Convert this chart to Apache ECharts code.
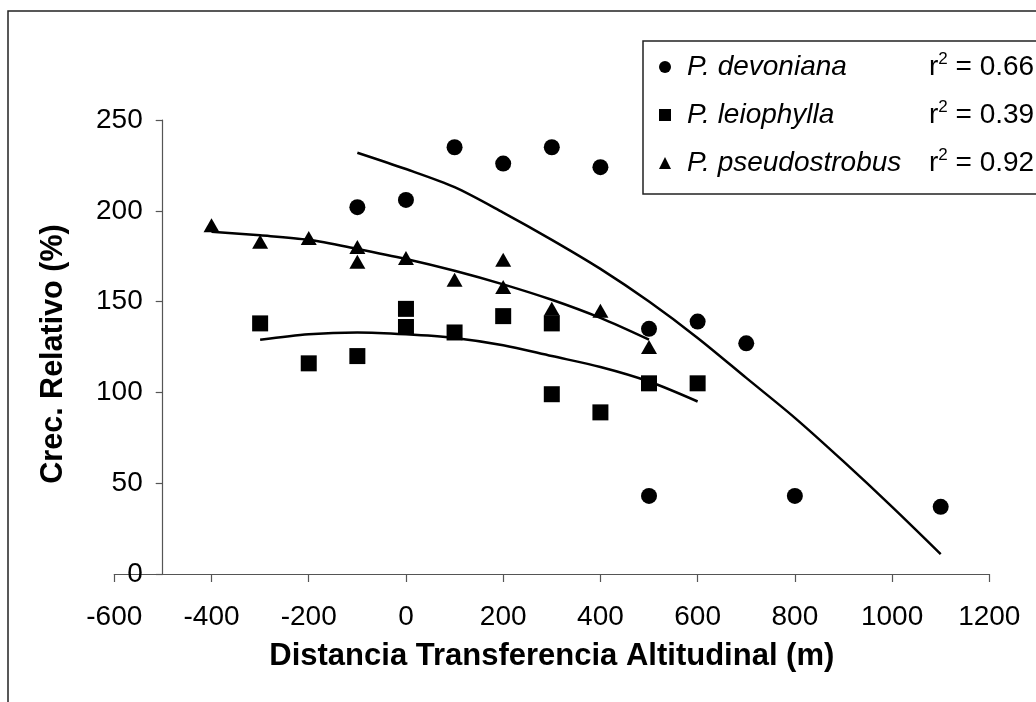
<!DOCTYPE html>
<html>
<head>
<meta charset="utf-8">
<script src="https://cdn.jsdelivr.net/npm/echarts@6/dist/echarts.min.js"></script>
<style>
    html, body {margin: 0; padding: 0; background: #fff;}
    #chart {width: 1036px; height: 702px;}
</style>
</head>
<body>
<div id="chart"></div>
<script>
// puntos observados [distancia, crecimiento]
let devoniana = [[-100, 202], [0, 206], [100, 235], [200, 226], [300, 235], [400, 224],
    [500, 135], [500, 43], [600, 139], [700, 127], [800, 43], [1100, 37]];
let leiophylla = [[-300, 138], [-200, 116], [-100, 120], [0, 146], [0, 136], [100, 133],
    [200, 142], [300, 138], [300, 99], [400, 89], [500, 105], [600, 105]];
let pseudostrobus = [[-400, 192], [-300, 183], [-200, 185], [-100, 180], [-100, 172], [0, 174],
    [100, 162], [200, 173], [200, 158], [300, 146], [400, 145], [500, 125]];

// lineas de tendencia
let devTrendX = [-100, 0, 100, 200, 300, 400, 500, 600, 700, 800, 900, 1000, 1100];
let devTrendY = [232, 223, 213, 199, 184, 168, 150, 130, 108, 86, 62, 37, 11];
let leioTrendX = [-300, -200, -100, 0, 100, 200, 300, 400, 500, 600];
let leioTrendY = [129, 132, 133, 132, 130, 126, 120, 114, 106, 95];
let pseuTrendX = [-400, -300, -200, -100, 0, 100, 200, 300, 400, 500];
let pseuTrendY = [188.5, 186.5, 184, 179, 173.5, 167, 159.5, 151, 141, 129];

let speciesNames = ['P. devoniana', 'P. leiophylla', 'P. pseudostrobus'];
let speciesIcons = ['circle', 'rect', 'triangle'];
let r2Values = ['0.66', '0.39', '0.92'];

let xTicks = {min: -600, max: 1200, interval: 200};
let yTicks = {min: 0, max: 250, interval: 50};

let zip = function (xs, ys) {
    return xs.map((x, i) => [x, ys[i]]);
};

let chart = echarts.init(document.getElementById('chart'));
let font = '"Liberation Sans", Arial, sans-serif';

let trend = function (name, xs, ys) {
    return {
        name: name,
        type: 'line',
        data: zip(xs, ys),
        smooth: 0.3,
        symbol: 'none',
        lineStyle: {color: '#000', width: 2.5},
        z: 2
    };
};

let dots = function (name, data, symbol) {
    return {
        name: name,
        type: 'scatter',
        data: data,
        symbol: symbol,
        symbolSize: symbol === 'triangle' ? [16, 14] : 16,
        itemStyle: {color: '#000', opacity: 1},
        z: 3
    };
};

let option = {
    animation: false,
    backgroundColor: '#fff',
    textStyle: {fontFamily: font},
    graphic: [{
        type: 'rect',
        shape: {x: 8, y: 11, width: 1200, height: 900},
        style: {fill: 'none', stroke: '#222', lineWidth: 1.5},
        z: -1
    }],
    grid: {left: 114.3, right: 46.7, top: 120, bottom: 128},
    xAxis: {
        type: 'value',
        min: xTicks.min,
        max: xTicks.max,
        interval: xTicks.interval,
        name: 'Distancia Transferencia Altitudinal (m)',
        nameLocation: 'middle',
        nameGap: 67,
        nameTextStyle: {fontSize: 31, fontWeight: 'bold', color: '#000', fontFamily: font},
        axisLine: {lineStyle: {color: '#555', width: 1.2}},
        axisTick: {inside: false, length: 8, lineStyle: {color: '#555', width: 1.2}},
        axisLabel: {fontSize: 28, color: '#000', margin: 29, fontFamily: font,
            formatter: v => String(v)},
        splitLine: {show: false}
    },
    yAxis: {
        type: 'value',
        min: yTicks.min,
        max: yTicks.max,
        interval: yTicks.interval,
        offset: -48.4,
        name: 'Crec. Relativo (%)',
        nameLocation: 'middle',
        nameGap: 94,
        nameTextStyle: {fontSize: 30.5, fontWeight: 'bold', color: '#000', fontFamily: font,
            padding: [0, 14, 0, 0]},
        axisLine: {show: true, onZero: false, lineStyle: {color: '#555', width: 1.2}},
        axisTick: {show: true, inside: false, length: 7, lineStyle: {color: '#555', width: 1.2}},
        axisLabel: {fontSize: 28, color: '#000', margin: 20, fontFamily: font,
            formatter: v => String(v)},
        splitLine: {show: false}
    },
    legend: {
        orient: 'vertical',
        left: 643,
        top: 41,
        padding: [10, 30, 17, 16],
        itemGap: 18,
        itemWidth: 12,
        itemHeight: 12,
        selectedMode: false,
        borderColor: '#222',
        borderWidth: 1.5,
        backgroundColor: '#fff',
        data: speciesNames.map((n, i) => ({name: n, icon: speciesIcons[i]})),
        formatter: function (name) {
            let i = speciesNames.indexOf(name);
            return '{n|' + name + '}{r|r}{s|2}{v| = ' + r2Values[i] + '}';
        },
        textStyle: {
            fontFamily: font,
            color: '#000',
            rich: {
                n: {fontSize: 28, fontStyle: 'italic', width: 242, padding: [0, 0, 0, 11], lineHeight: 32, fontFamily: font},
                r: {fontSize: 28, lineHeight: 32, fontFamily: font},
                s: {fontSize: 17, verticalAlign: 'top', lineHeight: 32, fontFamily: font},
                v: {fontSize: 28, lineHeight: 32, fontFamily: font}
            }
        }
    },
    series: [
        trend('tendencia devoniana', devTrendX, devTrendY),
        trend('tendencia leiophylla', leioTrendX, leioTrendY),
        trend('tendencia pseudostrobus', pseuTrendX, pseuTrendY),
        dots(speciesNames[0], devoniana, 'circle'),
        dots(speciesNames[1], leiophylla, 'rect'),
        dots(speciesNames[2], pseudostrobus, 'triangle')
    ]
};

chart.setOption(option);
</script>
</body>
</html>
